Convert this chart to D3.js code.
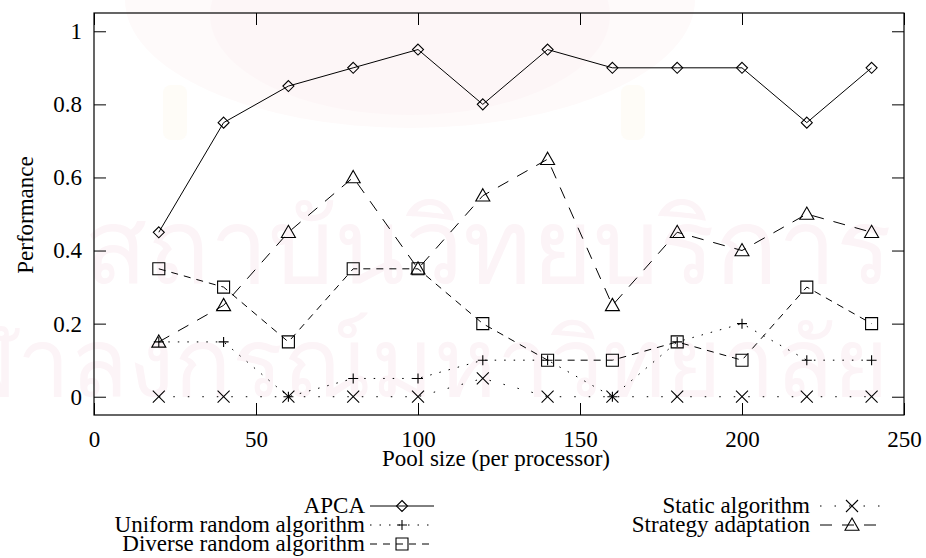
<!DOCTYPE html>
<html>
<head>
<meta charset="utf-8">
<script src="https://cdn.jsdelivr.net/npm/d3@7"></script>
<style>
  body { margin: 0; background: #fff; }
  svg { display: block; font-family: "Liberation Serif", "Times New Roman", serif; }
</style>
</head>
<body>
<div id="chart"></div>
<script>
// pool sizes and performance of each algorithm
const poolSizes = [20, 40, 60, 80, 100, 120, 140, 160, 180, 200, 220, 240];
const apca      = [0.45, 0.75, 0.85, 0.9, 0.95, 0.8, 0.95, 0.9, 0.9, 0.9, 0.75, 0.9];
const uniform   = [0.15, 0.15, 0, 0.05, 0.05, 0.1, 0.1, 0, 0.15, 0.2, 0.1, 0.1];
const diverse   = [0.35, 0.3, 0.15, 0.35, 0.35, 0.2, 0.1, 0.1, 0.15, 0.1, 0.3, 0.2];
const staticAlg = [0, 0, 0, 0, 0, 0.05, 0, 0, 0, 0, 0, 0];
const strategy  = [0.15, 0.25, 0.45, 0.6, 0.35, 0.55, 0.65, 0.25, 0.45, 0.4, 0.5, 0.45];

const xTicks = [0, 50, 100, 150, 200, 250];
const yTicks = [0, 0.2, 0.4, 0.6, 0.8, 1];

const W = 926, H = 558;
const plotL = 94, plotR = 904, plotT = 13, plotB = 415;
const fontSize = 23;

const x = d3.scaleLinear().domain([0, 250]).range([plotL, plotR]);
const y = d3.scaleLinear().domain([-0.05, 1.05]).range([plotB, plotT]);

// gnuplot style point shapes
const shapes = {
  diamond: s => `M0,${-s}L${s},0L0,${s}L${-s},0Z`,
  plus:    s => `M${-s},0H${s}M0,${-s}V${s}`,
  square:  s => `M${-s},${-s}H${s}V${s}H${-s}Z`,
  cross:   s => `M${-s},${-s}L${s},${s}M${-s},${s}L${s},${-s}`,
  triangle: s => `M0,${-s}L${s},${s * 0.75}H${-s}Z`
};

const series = [
  {name: 'APCA', values: apca, dash: null, shape: 'diamond', size: 5.5, col: 0, row: 0},
  {name: 'Uniform random algorithm', values: uniform, dash: '1.5,8', shape: 'plus', size: 5, col: 0, row: 1},
  {name: 'Diverse random algorithm', values: diverse, dash: '7,6', shape: 'square', size: 6, col: 0, row: 2},
  {name: 'Static algorithm', values: staticAlg, dash: '1.5,13', shape: 'cross', size: 6, col: 1, row: 0},
  {name: 'Strategy adaptation', values: strategy, dash: '12,10', shape: 'triangle', size: 7, col: 1, row: 1}
];

const svg = d3.select('#chart').append('svg')
  .attr('width', W).attr('height', H);

// faint scanned watermark: emblem and institute name
const emb = svg.append('g');
emb.append('ellipse').attr('cx', 410).attr('cy', 0).attr('rx', 285).attr('ry', 128)
  .attr('fill', '#fefafa');
emb.append('ellipse').attr('cx', 410).attr('cy', 15).attr('rx', 200).attr('ry', 100)
  .attr('fill', '#fdf6f7');
[175, 633].forEach(cx => {
  emb.append('rect').attr('x', cx - 12).attr('y', 85).attr('width', 24).attr('height', 55)
    .attr('rx', 8).attr('fill', '#fefcf7');
});

const wm = svg.append('g').attr('fill', '#fcf4f7')
  .style('font-family', '"Noto Sans", "DejaVu Sans", sans-serif');
wm.append('text').attr('x', 488).attr('y', 283).attr('text-anchor', 'middle')
  .attr('font-size', 104).text('สถาบันวิทยบริการ');
wm.append('text').attr('x', 392).attr('y', 396).attr('text-anchor', 'middle')
  .attr('font-size', 95).text('จุฬาลงกรณ์มหาวิทยาลัย');

// axes with inward ticks, mirrored on the opposite side
const fmt = d => String(d);
svg.append('g').attr('transform', `translate(0,${plotB})`)
  .call(d3.axisBottom(x).tickValues(xTicks).tickFormat(fmt).tickSizeInner(-12).tickSizeOuter(0).tickPadding(16));
svg.append('g').attr('transform', `translate(0,${plotT})`)
  .call(d3.axisTop(x).tickValues(xTicks).tickFormat('').tickSizeInner(-12).tickSizeOuter(0));
svg.append('g').attr('transform', `translate(${plotL},0)`)
  .call(d3.axisLeft(y).tickValues(yTicks).tickFormat(fmt).tickSizeInner(-12).tickSizeOuter(0).tickPadding(12));
svg.append('g').attr('transform', `translate(${plotR},0)`)
  .call(d3.axisRight(y).tickValues(yTicks).tickFormat('').tickSizeInner(-12).tickSizeOuter(0));

svg.selectAll('.domain').remove();
svg.selectAll('.tick line').attr('stroke', '#000').attr('stroke-width', 1);
svg.selectAll('.tick text').attr('font-size', fontSize).attr('fill', '#000')
  .style('font-family', '"Liberation Serif", serif');

svg.append('rect')
  .attr('x', plotL).attr('y', plotT)
  .attr('width', plotR - plotL).attr('height', plotB - plotT)
  .attr('fill', 'none').attr('stroke', '#000').attr('stroke-width', 1.2);

// axis titles
svg.append('text').attr('x', 496).attr('y', 466).attr('text-anchor', 'middle')
  .attr('font-size', fontSize).text('Pool size (per processor)');
svg.append('text').attr('transform', 'translate(33,215) rotate(-90)')
  .attr('text-anchor', 'middle').attr('font-size', fontSize).text('Performance');

// series lines and points
const line = d3.line().x((d, i) => x(poolSizes[i])).y(d => y(d));

series.forEach(s => {
  svg.append('path')
    .datum(s.values)
    .attr('d', line)
    .attr('fill', 'none')
    .attr('stroke', '#000')
    .attr('stroke-width', 1)
    .attr('stroke-dasharray', s.dash);

  const pts = svg.append('g');
  pts.selectAll('path')
    .data(s.values)
    .enter()
    .append('path')
    .attr('transform', (d, i) => `translate(${x(poolSizes[i])},${y(d)})`)
    .attr('d', shapes[s.shape](s.size))
    .attr('fill', 'none')
    .attr('stroke', '#000')
    .attr('stroke-width', 1.1);
});

// legend
const legCols = [{textEnd: 365, x0: 370, x1: 434}, {textEnd: 810, x0: 820, x1: 884}];
const legBase = 513, legStep = 19;

series.forEach(s => {
  const c = legCols[s.col];
  const yb = legBase + s.row * legStep;
  const g = svg.append('g');
  g.append('text').attr('x', c.textEnd).attr('y', yb).attr('text-anchor', 'end')
    .attr('font-size', fontSize).text(s.name);
  g.append('line')
    .attr('x1', c.x0).attr('x2', c.x1).attr('y1', yb - 7).attr('y2', yb - 7)
    .attr('stroke', '#000').attr('stroke-width', 1)
    .attr('stroke-dasharray', s.dash);
  g.append('path')
    .attr('transform', `translate(${(c.x0 + c.x1) / 2},${yb - 7})`)
    .attr('d', shapes[s.shape](s.size))
    .attr('fill', 'none').attr('stroke', '#000').attr('stroke-width', 1.1);
});
</script>
</body>
</html>
